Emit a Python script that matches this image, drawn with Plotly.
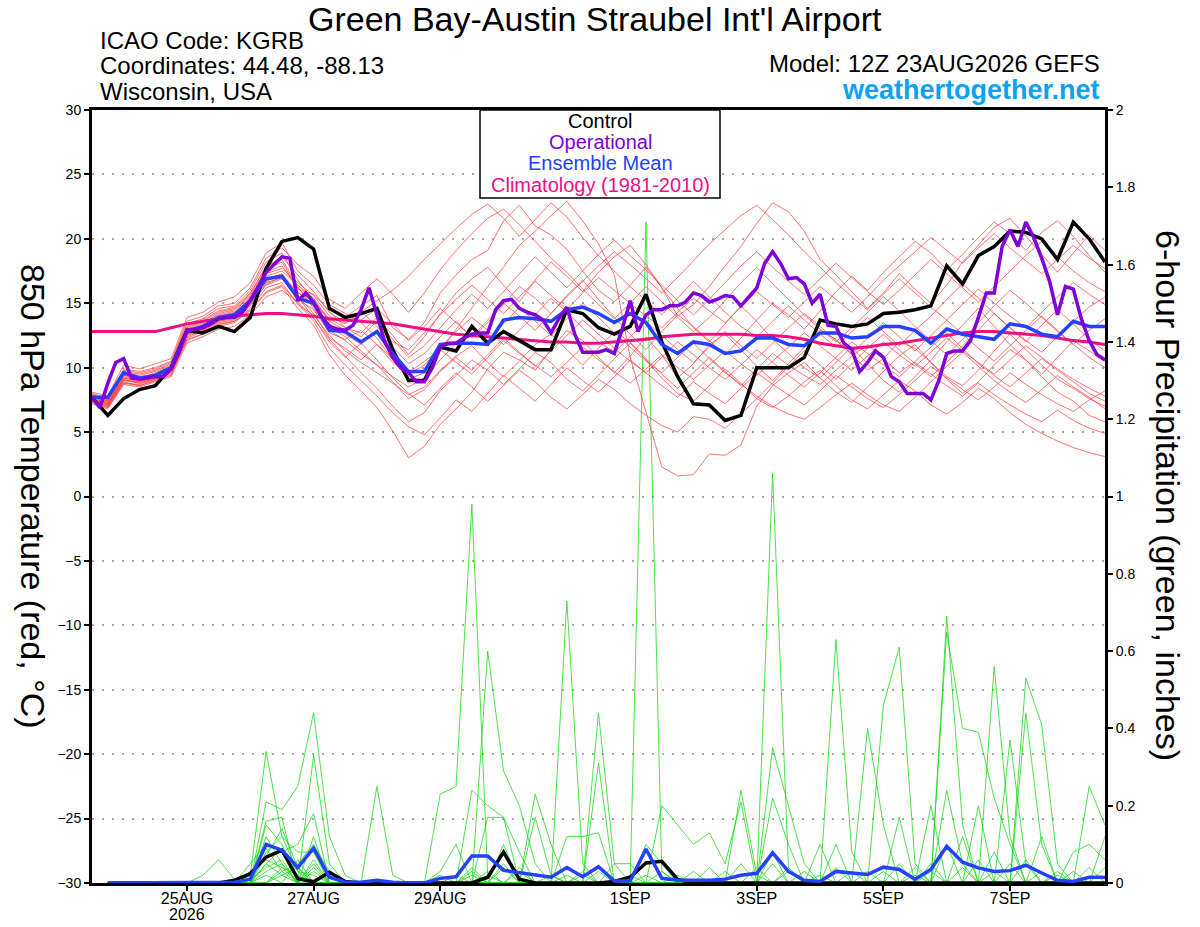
import pandas as pd
import plotly.graph_objects as go

# GEFS 12Z 23AUG2026 run, 6-hourly out to 16 days (operational is 3-hourly)
STEPS = pd.date_range("2026-08-23 12:00", periods=65, freq="6h")
OPER_STEPS = pd.date_range("2026-08-23 12:00", periods=129, freq="3h")

TICK_DATES = ["2026-08-25", "2026-08-27", "2026-08-29", "2026-09-01",
              "2026-09-03", "2026-09-05", "2026-09-07"]
TICK_TEXT = ["25AUG", "27AUG", "29AUG", "1SEP", "3SEP", "5SEP", "7SEP"]
YEAR_LABEL = "2026"

# 850 hPa temperature (C)
CONTROL_T = [7.7, 6.3, 7.6, 8.3, 8.6, 10.0, 12.9, 12.7, 13.2, 12.8, 13.9, 17.7, 19.8,
             20.1, 19.2, 14.6, 13.9, 14.2, 14.6, 11.4, 9.0, 9.0, 11.6, 11.3, 13.2, 11.9,
             12.8, 12.1, 11.4, 11.4, 14.5, 14.2, 13.1, 12.6, 13.2, 15.7, 12.0, 9.3, 7.2,
             7.1, 5.9, 6.3, 10.0, 10.0, 10.0, 10.8, 13.7, 13.4, 13.2, 13.4, 14.2, 14.3,
             14.5, 14.8, 17.9, 16.5, 18.7, 19.4, 20.6, 20.5, 20.0, 18.4, 21.3, 20.0, 18.2]

OPER_T = [7.7, 6.9, 8.8, 10.4, 10.7, 9.2, 9.1, 9.2, 9.3, 9.3, 9.9, 11.2, 12.9,
          13.0, 13.1, 13.4, 13.8, 13.9, 13.9, 14.3, 15.2, 16.3, 17.4, 18.0, 18.6, 18.5,
          15.2, 15.8, 15.1, 14.0, 13.2, 13.0, 12.9, 13.3, 14.5, 16.2, 14.0, 12.0, 10.8,
          10.0, 9.6, 8.9, 8.9, 10.0, 11.6, 11.9, 11.9, 12.3, 12.6, 12.7, 12.7, 14.5,
          15.2, 15.3, 14.6, 14.3, 14.1, 13.7, 12.7, 13.8, 14.7, 12.6, 11.2, 11.2, 11.2,
          11.4, 11.1, 13.0, 15.2, 12.8, 14.1, 14.5, 14.5, 14.8, 14.8, 15.1, 15.8, 15.6,
          15.1, 15.3, 15.6, 15.5, 14.8, 15.5, 16.2, 18.1, 19.0, 18.1, 16.9, 17.0, 16.5,
          15.0, 15.7, 13.3, 13.2, 11.9, 11.4, 9.7, 10.4, 11.3, 10.8, 9.3, 8.9, 8.0,
          8.0, 8.0, 7.5, 9.0, 11.1, 11.3, 11.3, 12.1, 13.9, 15.8, 15.8, 19.4, 20.7,
          19.4, 21.3, 20.1, 18.5, 16.7, 14.1, 16.3, 16.1, 13.8, 12.1, 11.0, 10.6]

MEAN_T = [7.7, 7.7, 9.6, 9.2, 9.4, 10.0, 12.8, 13.2, 13.9, 14.1, 15.2, 16.9, 17.1,
          15.4, 15.0, 12.9, 12.8, 12.0, 12.8, 11.1, 9.7, 9.7, 11.8, 11.9, 11.9, 11.8,
          13.7, 13.9, 13.8, 13.6, 14.5, 14.7, 14.2, 13.5, 14.2, 13.5, 11.8, 11.1, 12.0,
          11.8, 11.1, 11.3, 12.3, 12.3, 11.8, 11.7, 12.7, 12.7, 12.3, 12.4, 13.2, 13.2,
          12.9, 11.9, 13.0, 12.6, 12.4, 12.2, 13.4, 13.2, 12.6, 12.4, 13.6, 13.2, 13.2]

CLIMO_T = [12.8, 12.8, 12.8, 12.8, 12.8, 13.1, 13.4, 13.6, 13.8, 14.0, 14.1, 14.2, 14.2,
           14.1, 14.0, 13.8, 13.7, 13.6, 13.5, 13.4, 13.2, 13.0, 12.8, 12.6, 12.5, 12.4,
           12.3, 12.2, 12.1, 12.0, 12.0, 11.9, 11.9, 12.0, 12.1, 12.2, 12.4, 12.5, 12.6,
           12.6, 12.6, 12.6, 12.5, 12.5, 12.4, 12.2, 11.9, 11.7, 11.5, 11.6, 11.8, 11.9,
           12.1, 12.3, 12.5, 12.7, 12.8, 12.8, 12.7, 12.6, 12.5, 12.3, 12.1, 12.0, 11.8]

# ensemble members, 850 hPa temperature
MEM01_T = [7.9, 7.4, 9.8, 9.6, 9.9, 10.4, 13.4, 13.8, 14.6, 14.8, 16.0, 18.2, 18.9,
           16.8, 15.2, 13.6, 13.9, 14.8, 15.6, 13.1, 12.2, 13.5, 15.8, 17.2, 18.4, 19.1,
           21.4, 22.6, 21.0, 20.3, 19.2, 17.5, 16.0, 15.1, 16.4, 17.8, 16.2, 14.0, 14.9,
           16.3, 17.9, 19.4, 21.2, 22.8, 22.1, 20.6, 18.4, 17.2, 15.9, 14.6, 15.8, 17.3,
           16.1, 15.0, 16.4, 18.2, 19.5, 20.9, 21.6, 20.2, 18.8, 17.4, 18.9, 20.3, 19.1]
MEM02_T = [7.5, 7.0, 9.0, 8.8, 9.1, 9.6, 12.1, 12.6, 13.3, 13.6, 14.4, 15.8, 16.3,
           14.6, 13.3, 11.0, 9.4, 8.2, 6.9, 5.1, 3.0, 3.9, 5.6, 6.8, 8.1, 9.9,
           11.2, 10.6, 9.8, 11.4, 12.9, 12.1, 10.8, 9.6, 10.9, 12.4, 11.0, 9.2, 10.3,
           11.8, 12.6, 11.4, 10.1, 9.0, 10.3, 11.6, 12.9, 12.2, 11.0, 9.8, 10.7, 12.0,
           11.5, 10.4, 9.1, 8.0, 8.9, 10.2, 11.4, 10.6, 9.3, 8.1, 7.4, 6.3, 5.8]
MEM03_T = [8.1, 7.8, 10.2, 9.9, 10.3, 10.7, 13.9, 14.3, 15.1, 15.5, 16.6, 18.9, 19.7,
           17.5, 16.4, 14.9, 14.2, 13.5, 12.3, 10.6, 9.1, 9.6, 11.3, 13.0, 14.6, 16.3,
           17.8, 19.5, 20.6, 21.8, 22.9, 21.4, 19.6, 17.2, 10.8, 6.5, 2.3, 1.6, 1.7,
           3.3, 3.2, 4.0, 7.0, 8.6, 9.6, 10.4, 9.2, 8.1, 7.3, 8.5, 9.7, 10.9,
           11.8, 10.4, 9.3, 8.6, 9.8, 11.3, 12.6, 11.4, 10.2, 9.1, 8.4, 7.6, 7.0]
MEM04_T = [7.2, 6.8, 8.7, 8.5, 8.9, 9.3, 11.9, 12.4, 13.0, 13.2, 14.1, 15.5, 16.0,
           15.1, 13.8, 12.2, 10.9, 9.6, 8.4, 7.0, 5.8, 6.5, 8.2, 9.4, 10.6, 9.8,
           8.7, 9.9, 11.2, 10.4, 9.1, 8.2, 9.4, 10.7, 11.9, 10.6, 9.2, 8.0, 7.4,
           8.6, 9.9, 8.8, 7.6, 6.9, 7.8, 8.9, 9.8, 8.6, 7.5, 6.8, 7.9, 9.0,
           8.2, 7.1, 6.4, 7.3, 8.4, 7.6, 6.5, 5.6, 4.9, 4.3, 3.8, 3.4, 3.1]
MEM05_T = [7.8, 7.3, 9.4, 9.1, 9.5, 10.1, 12.9, 13.4, 14.2, 14.5, 15.6, 17.6, 18.2,
           16.1, 15.7, 14.4, 13.1, 12.7, 13.9, 12.5, 11.0, 12.4, 14.2, 15.8, 16.9, 17.8,
           16.4, 15.1, 16.8, 18.2, 17.1, 15.9, 17.4, 18.6, 19.5, 18.0, 16.2, 14.6, 13.1,
           12.0, 13.4, 14.8, 13.6, 12.2, 11.1, 10.0, 9.2, 10.4, 11.6, 10.3, 9.0, 8.1,
           9.3, 10.6, 12.0, 13.3, 14.6, 13.2, 11.8, 10.6, 9.5, 10.8, 12.1, 11.3, 10.5]
MEM06_T = [7.6, 7.1, 9.2, 8.9, 9.2, 9.9, 12.6, 13.1, 13.7, 14.0, 15.0, 16.6, 17.0,
           15.9, 14.8, 13.4, 12.6, 11.8, 12.9, 11.6, 10.3, 11.1, 12.4, 13.6, 12.3, 13.5,
           14.9, 16.3, 15.4, 14.2, 15.6, 16.8, 15.3, 13.9, 12.6, 11.4, 12.8, 14.1, 13.2,
           12.1, 11.0, 12.3, 13.7, 15.0, 14.1, 13.0, 14.4, 15.9, 17.1, 16.0, 17.4, 18.6,
           19.8, 18.9, 17.6, 18.8, 20.1, 21.3, 20.4, 19.1, 20.5, 21.4, 20.2, 18.7, 17.4]
MEM07_T = [7.4, 7.0, 8.9, 8.6, 9.0, 9.5, 12.3, 12.8, 13.4, 13.6, 14.6, 16.2, 16.6,
           14.9, 14.1, 12.5, 11.3, 10.4, 9.6, 8.8, 7.9, 8.5, 9.8, 10.9, 11.7, 10.4,
           9.3, 10.5, 11.8, 12.6, 11.4, 10.2, 11.5, 12.8, 12.0, 10.7, 9.5, 8.4, 9.6,
           10.8, 9.7, 8.6, 9.9, 11.1, 10.2, 9.4, 8.7, 9.8, 10.9, 11.8, 10.7, 9.6,
           10.5, 11.6, 12.7, 11.5, 10.3, 9.4, 8.5, 9.6, 10.7, 9.8, 8.9, 8.0, 7.4]
MEM08_T = [8.0, 7.6, 9.9, 9.7, 10.0, 10.5, 13.6, 14.0, 14.8, 15.0, 16.2, 18.5, 19.3,
           18.0, 17.1, 15.3, 14.6, 15.8, 16.9, 15.7, 14.3, 15.8, 17.6, 19.1, 20.4, 21.6,
           22.3, 21.1, 19.8, 18.5, 17.4, 16.1, 14.9, 13.8, 15.0, 16.3, 15.1, 13.9, 12.8,
           13.9, 15.2, 16.6, 17.8, 16.5, 15.3, 14.1, 13.0, 12.0, 13.1, 14.3, 15.5, 14.4,
           13.2, 12.1, 11.0, 12.2, 13.5, 14.8, 16.0, 15.0, 13.9, 12.8, 11.8, 12.9, 13.8]
MEM09_T = [7.3, 6.9, 8.8, 8.7, 9.1, 9.7, 12.5, 12.9, 13.6, 13.8, 14.9, 16.4, 16.9,
           15.5, 13.9, 12.0, 10.8, 11.9, 10.6, 9.2, 8.0, 7.1, 8.4, 9.6, 8.5, 7.4,
           8.6, 9.8, 8.9, 7.7, 6.8, 7.9, 9.1, 8.3, 7.2, 6.3, 5.5, 5.0, 6.2,
           6.0, 5.3, 6.4, 7.6, 8.8, 10.1, 11.3, 10.2, 9.1, 10.3, 11.5, 12.6, 11.4,
           10.3, 9.3, 10.4, 11.7, 12.9, 14.2, 13.1, 12.0, 13.3, 14.5, 13.4, 12.2, 11.3]
MEM10_T = [7.7, 7.2, 9.3, 9.0, 9.4, 10.0, 12.7, 13.2, 13.9, 14.2, 15.4, 17.3, 17.7,
           16.6, 15.6, 14.0, 13.4, 14.3, 15.2, 16.0, 17.1, 18.4, 19.6, 20.8, 21.9, 22.7,
           21.6, 20.2, 21.5, 22.8, 21.7, 20.1, 18.7, 17.5, 16.3, 15.2, 14.1, 15.4, 16.7,
           15.5, 14.3, 13.2, 12.4, 13.6, 14.8, 13.7, 12.6, 11.6, 12.8, 13.9, 12.8, 11.7,
           12.9, 14.0, 15.3, 16.5, 15.4, 14.2, 13.1, 12.1, 11.2, 12.4, 13.6, 14.7, 15.5]
MEM11_T = [7.9, 7.5, 9.6, 9.4, 9.7, 10.2, 13.1, 13.6, 14.3, 14.6, 15.7, 17.9, 18.4,
           16.3, 14.6, 12.9, 12.1, 11.1, 10.2, 9.3, 8.5, 9.2, 10.6, 11.9, 13.0, 12.1,
           13.4, 14.7, 13.6, 12.5, 13.8, 15.0, 13.9, 12.7, 11.6, 10.5, 9.6, 10.8, 11.9,
           10.7, 9.6, 8.7, 7.8, 7.0, 6.4, 6.0, 6.9, 7.9, 8.8, 7.9, 7.1, 6.6,
           7.7, 8.9, 10.1, 11.2, 10.1, 9.0, 8.1, 7.3, 8.3, 9.4, 8.5, 7.7, 6.8]
MEM12_T = [7.6, 7.2, 9.1, 8.8, 9.2, 9.8, 12.6, 13.0, 13.6, 13.9, 15.0, 16.8, 17.3,
           15.8, 15.2, 13.8, 13.1, 12.4, 13.6, 12.2, 10.8, 11.7, 13.1, 14.5, 15.7, 14.6,
           15.9, 17.3, 18.6, 17.4, 16.2, 17.5, 18.8, 19.9, 18.7, 17.6, 16.4, 15.2, 14.1,
           15.3, 16.6, 17.9, 19.0, 17.8, 16.7, 15.7, 16.9, 18.1, 17.0, 15.9, 14.9, 16.0,
           17.2, 18.4, 17.3, 16.2, 15.1, 16.3, 17.5, 18.7, 19.8, 18.6, 17.5, 16.6, 15.9]
MEM13_T = [7.5, 7.1, 9.0, 8.9, 9.3, 9.8, 12.4, 12.9, 13.5, 13.7, 14.8, 16.5, 17.0,
           15.3, 14.5, 12.7, 12.2, 12.9, 11.8, 10.4, 9.5, 10.2, 11.6, 12.8, 13.9, 12.9,
           11.8, 12.9, 14.1, 15.4, 14.3, 13.1, 12.0, 11.2, 12.4, 13.6, 12.5, 11.4, 10.4,
           11.6, 12.8, 11.7, 10.7, 11.9, 13.1, 14.2, 13.2, 12.1, 11.1, 12.3, 13.5, 12.4,
           11.3, 12.5, 13.7, 12.6, 11.5, 10.5, 11.7, 12.9, 14.0, 12.9, 11.8, 10.8, 10.0]
MEM14_T = [7.8, 7.4, 9.5, 9.2, 9.6, 10.1, 13.0, 13.5, 14.1, 14.4, 15.5, 17.4, 17.9,
           16.2, 15.0, 13.2, 12.4, 11.3, 10.2, 8.9, 7.6, 8.3, 9.7, 10.8, 9.8, 11.0,
           12.3, 11.2, 10.1, 11.3, 12.5, 13.7, 12.6, 11.5, 10.5, 9.6, 10.8, 12.0, 11.0,
           10.0, 9.1, 10.2, 11.4, 10.4, 9.4, 8.5, 9.6, 10.8, 12.0, 11.1, 10.2, 9.3,
           10.4, 9.5, 8.6, 7.8, 8.8, 7.9, 7.1, 6.4, 5.8, 6.7, 5.9, 5.3, 4.9]
MEM15_T = [7.7, 7.3, 9.4, 9.2, 9.5, 10.0, 12.8, 13.3, 14.0, 14.3, 15.3, 17.1, 17.5,
           16.4, 15.4, 13.6, 12.9, 13.7, 14.6, 13.4, 12.1, 13.2, 14.6, 13.5, 12.4, 13.7,
           15.0, 14.0, 12.9, 14.2, 15.5, 16.7, 17.9, 19.0, 18.0, 16.9, 15.8, 17.0, 18.3,
           19.6, 20.7, 21.8, 22.6, 21.5, 20.3, 19.0, 17.8, 16.6, 15.5, 14.5, 15.7, 16.9,
           15.8, 14.7, 13.7, 14.9, 16.1, 15.0, 14.0, 13.1, 14.3, 15.5, 16.6, 15.7, 14.9]
MEM16_T = [7.4, 6.9, 8.8, 8.6, 9.0, 9.4, 12.2, 12.6, 13.2, 13.5, 14.5, 15.9, 16.4,
           15.0, 13.6, 11.5, 10.2, 9.0, 7.8, 6.5, 5.4, 4.8, 6.1, 7.5, 6.6, 8.0,
           9.4, 8.4, 7.4, 8.7, 10.0, 9.0, 8.1, 9.3, 10.6, 9.6, 8.6, 7.7, 8.9,
           8.0, 7.2, 8.4, 9.6, 8.7, 7.9, 7.1, 8.2, 9.4, 8.5, 7.6, 6.9, 7.9,
           9.0, 10.1, 9.2, 8.3, 7.5, 8.5, 9.6, 8.7, 7.9, 7.2, 6.6, 7.5, 8.2]
MEM17_T = [7.9, 7.5, 9.7, 9.5, 9.8, 10.3, 13.2, 13.7, 14.4, 14.7, 15.8, 17.8, 18.6,
           17.2, 15.9, 14.3, 13.5, 14.4, 13.2, 12.0, 11.4, 12.7, 14.1, 15.3, 16.4, 15.3,
           14.2, 15.5, 16.7, 15.6, 14.5, 15.8, 17.0, 16.0, 15.0, 14.0, 13.1, 14.3, 15.4,
           14.4, 13.5, 14.7, 15.9, 14.9, 13.9, 15.1, 16.3, 15.3, 14.3, 15.5, 16.8, 17.9,
           19.0, 20.1, 19.1, 18.1, 19.3, 20.4, 19.3, 18.3, 17.3, 18.4, 19.5, 18.5, 17.7]
MEM18_T = [7.6, 7.1, 9.2, 9.0, 9.3, 9.9, 12.6, 13.0, 13.7, 14.0, 15.1, 16.7, 17.2,
           15.6, 14.2, 12.3, 11.5, 10.6, 11.8, 10.7, 9.6, 10.5, 11.4, 10.4, 9.5, 10.8,
           12.1, 11.1, 10.2, 9.3, 10.4, 11.6, 10.6, 9.7, 8.8, 9.9, 11.0, 10.0, 9.1,
           10.2, 11.3, 10.3, 9.4, 10.5, 11.6, 12.7, 11.7, 10.7, 9.8, 10.9, 12.0, 11.0,
           10.1, 11.2, 12.3, 11.3, 10.4, 9.5, 10.6, 11.7, 10.8, 9.9, 9.1, 8.4, 7.8]

# 6-hour precipitation (inches); first value is the analysis time (no accumulation)
CONTROL_P = [0, 0, 0, 0, 0, 0, 0, 0, 0, 0.007, 0.024, 0.067, 0.085,
             0.011, 0.003, 0.028, 0.004, 0, 0, 0, 0, 0, 0, 0, 0, 0.015,
             0.08, 0.01, 0, 0, 0, 0, 0, 0.004, 0.015, 0.052, 0.056, 0.009, 0,
             0, 0, 0, 0, 0, 0, 0, 0, 0, 0, 0, 0, 0,
             0, 0, 0, 0, 0, 0, 0, 0, 0, 0, 0, 0, 0]
MEAN_P = [0, 0, 0, 0, 0, 0, 0, 0, 0, 0.002, 0.01, 0.1, 0.085,
          0.04, 0.09, 0.015, 0.002, 0.002, 0.007, 0.002, 0, 0, 0.012, 0.016, 0.07, 0.07,
          0.033, 0.027, 0.022, 0.015, 0.04, 0.016, 0.042, 0.005, 0.005, 0.088, 0.012, 0.007, 0.007,
          0.007, 0.01, 0.02, 0.025, 0.078, 0.03, 0.007, 0.004, 0.03, 0.026, 0.022, 0.041, 0.035,
          0.01, 0.035, 0.095, 0.054, 0.039, 0.03, 0.032, 0.046, 0.026, 0.007, 0.004, 0.015, 0.015]

MEM01_P = [0, 0, 0, 0, 0, 0, 0, 0, 0, 0, 0.02, 0.34, 0.12,
           0.03, 0, 0, 0, 0, 0, 0, 0, 0, 0.23, 0.25, 0.98, 0.02,
           0, 0, 0, 0, 0, 0, 0, 0, 0, 0, 0, 0, 0,
           0, 0, 0.05, 0, 0.08, 0, 0, 0, 0, 0, 0, 0, 0,
           0, 0, 0.24, 0.05, 0, 0, 0, 0, 0, 0, 0, 0, 0]
MEM02_P = [0, 0, 0, 0, 0, 0, 0, 0, 0, 0, 0, 0.21, 0.19,
           0.25, 0.44, 0.12, 0.02, 0, 0, 0, 0, 0, 0, 0, 0, 0.60,
           0.29, 0.20, 0.05, 0, 0, 0, 0, 0, 0, 0, 0, 0, 0,
           0, 0, 0, 0, 0, 0, 0, 0, 0.10, 0, 0, 0, 0,
           0, 0, 0, 0, 0, 0.56, 0.12, 0, 0, 0, 0, 0, 0]
MEM03_P = [0, 0, 0, 0, 0, 0, 0, 0, 0, 0, 0, 0.16, 0.17,
           0, 0.33, 0.05, 0, 0, 0, 0, 0, 0, 0, 0, 0, 0,
           0, 0, 0, 0, 0.73, 0.05, 0, 0, 0, 0, 0, 0, 0,
           0, 0, 0, 0, 1.06, 0.04, 0, 0, 0, 0, 0, 0, 0,
           0, 0, 0, 0, 0, 0, 0, 0, 0.12, 0, 0, 0, 0]
MEM04_P = [0, 0, 0, 0, 0, 0, 0, 0, 0, 0, 0.05, 0.10, 0.08,
           0.10, 0.18, 0, 0, 0, 0.25, 0.02, 0, 0, 0, 0, 0, 0,
           0, 0, 0, 0, 0, 0, 0, 0, 0, 1.71, 0.03, 0, 0,
           0, 0, 0, 0, 0, 0, 0, 0, 0, 0, 0, 0, 0.17,
           0, 0, 0, 0, 0, 0, 0, 0.53, 0.41, 0.05, 0, 0, 0]
MEM05_P = [0, 0, 0, 0, 0, 0, 0, 0.02, 0.06, 0.01, 0, 0.15, 0.10,
           0, 0.12, 0, 0, 0, 0, 0, 0, 0, 0, 0, 0.24, 0.20,
           0.17, 0, 0, 0, 0, 0, 0.44, 0.05, 0, 0, 0, 0, 0,
           0, 0, 0, 0, 0, 0, 0, 0, 0.63, 0.08, 0, 0, 0,
           0, 0, 0, 0, 0, 0, 0, 0, 0, 0, 0, 0, 0.12]
MEM06_P = [0, 0, 0, 0, 0, 0, 0, 0, 0, 0, 0, 0.08, 0.12,
           0.08, 0.08, 0, 0, 0, 0, 0, 0, 0, 0, 0, 0, 0,
           0.10, 0, 0.23, 0.10, 0, 0, 0.31, 0, 0, 0, 0, 0, 0,
           0, 0, 0.24, 0.02, 0, 0, 0, 0, 0, 0, 0, 0, 0,
           0, 0, 0.69, 0.15, 0, 0, 0, 0, 0, 0, 0, 0, 0]
MEM07_P = [0, 0, 0, 0, 0, 0, 0, 0, 0, 0, 0, 0.12, 0.05,
           0, 0.05, 0, 0, 0, 0, 0, 0, 0, 0.03, 0.10, 0, 0.17,
           0.17, 0.08, 0, 0, 0, 0, 0, 0, 0, 0, 0.20, 0.15, 0.10,
           0.13, 0.05, 0.21, 0, 0, 0, 0, 0, 0, 0, 0, 0.46, 0.61,
           0.05, 0, 0, 0, 0, 0, 0, 0, 0, 0, 0, 0, 0]
MEM08_P = [0, 0, 0, 0, 0, 0, 0, 0, 0, 0, 0.03, 0.06, 0.04,
           0.02, 0, 0, 0, 0, 0, 0, 0, 0, 0, 0, 0.03, 0,
           0, 0, 0, 0, 0.12, 0.12, 0.13, 0, 0, 0, 0, 0, 0,
           0, 0, 0, 0, 0.35, 0.20, 0.05, 0, 0, 0, 0, 0, 0,
           0, 0, 0.65, 0.40, 0.39, 0.22, 0.10, 0, 0, 0, 0, 0, 0]
MEM09_P = [0, 0, 0, 0, 0, 0, 0, 0, 0, 0, 0, 0.05, 0.09,
           0.03, 0.02, 0, 0, 0, 0, 0, 0, 0, 0, 0, 0, 0,
           0, 0, 0.17, 0.02, 0, 0, 0, 0, 0, 0.10, 0.05, 0, 0,
           0, 0, 0, 0, 0.22, 0.10, 0, 0, 0, 0, 0.40, 0.15, 0,
           0, 0, 0, 0, 0, 0, 0, 0.44, 0.10, 0, 0, 0.25, 0.15]
MEM10_P = [0, 0, 0, 0, 0, 0, 0, 0, 0, 0, 0.01, 0.04, 0.06,
           0, 0.04, 0, 0, 0, 0, 0, 0, 0, 0, 0, 0.02, 0,
           0, 0.04, 0, 0, 0, 0, 0, 0.05, 0.05, 0, 0, 0, 0,
           0, 0, 0, 0, 0, 0, 0, 0.10, 0, 0, 0, 0, 0,
           0, 0.20, 0, 0, 0.20, 0, 0.37, 0.05, 0, 0, 0, 0, 0]
MEM11_P = [0, 0, 0, 0, 0, 0, 0, 0, 0, 0, 0, 0, 0.03,
           0.05, 0.10, 0.03, 0, 0, 0, 0, 0, 0, 0, 0, 0, 0,
           0, 0, 0, 0, 0, 0.03, 0, 0, 0, 0, 0, 0, 0.03,
           0, 0, 0, 0, 0, 0, 0.03, 0, 0, 0, 0, 0, 0,
           0.04, 0, 0, 0, 0, 0.03, 0, 0, 0, 0, 0.08, 0.10, 0.06]
MEM12_P = [0, 0, 0, 0, 0, 0, 0, 0, 0, 0, 0, 0.07, 0.14,
           0.04, 0, 0, 0, 0, 0, 0, 0, 0, 0, 0, 0, 0,
           0.05, 0, 0, 0.02, 0, 0, 0, 0, 0, 0, 0, 0.02, 0,
           0, 0, 0, 0.04, 0, 0, 0, 0, 0, 0.03, 0, 0, 0,
           0, 0.05, 0, 0.12, 0, 0, 0, 0, 0, 0.02, 0, 0, 0]
MEM13_P = [0, 0, 0, 0, 0, 0, 0, 0, 0, 0, 0, 0.03, 0.05,
           0, 0.03, 0, 0, 0, 0, 0, 0, 0, 0, 0.02, 0, 0,
           0, 0, 0, 0, 0.02, 0, 0, 0, 0, 0, 0, 0, 0,
           0.04, 0, 0, 0, 0, 0, 0, 0.02, 0, 0, 0, 0.03, 0,
           0, 0, 0, 0, 0.06, 0, 0, 0, 0.03, 0, 0, 0, 0]
MEM14_P = [0, 0, 0, 0, 0, 0, 0, 0, 0, 0, 0, 0, 0.02,
           0.04, 0, 0, 0, 0, 0, 0, 0, 0, 0, 0, 0, 0,
           0, 0.03, 0, 0, 0, 0, 0, 0, 0, 0.02, 0, 0, 0,
           0, 0, 0, 0, 0, 0.04, 0, 0, 0, 0, 0, 0, 0.05,
           0, 0, 0, 0, 0, 0.08, 0, 0, 0, 0, 0, 0, 0.04]
MEM15_P = [0, 0, 0, 0, 0, 0, 0, 0, 0, 0, 0.02, 0.09, 0.03,
           0, 0, 0, 0, 0, 0, 0, 0, 0, 0, 0, 0.04, 0,
           0, 0, 0, 0, 0, 0, 0.03, 0, 0, 0, 0, 0, 0,
           0, 0.03, 0, 0, 0, 0, 0, 0, 0, 0, 0.03, 0, 0,
           0, 0, 0.10, 0, 0, 0, 0, 0, 0, 0, 0, 0.04, 0]
MEM16_P = [0, 0, 0, 0, 0, 0, 0, 0, 0, 0, 0, 0.02, 0,
           0.06, 0, 0, 0, 0, 0, 0, 0, 0, 0, 0, 0, 0.03,
           0, 0, 0, 0, 0, 0.02, 0, 0, 0, 0, 0, 0, 0,
           0, 0, 0, 0, 0, 0, 0, 0, 0.04, 0, 0, 0, 0,
           0, 0.03, 0, 0, 0, 0, 0, 0.06, 0, 0, 0, 0, 0]
MEM17_P = [0, 0, 0, 0, 0, 0, 0, 0, 0, 0, 0, 0, 0.04,
           0, 0.06, 0, 0, 0, 0, 0, 0, 0, 0, 0, 0, 0,
           0.04, 0, 0, 0, 0, 0, 0, 0, 0, 0, 0.03, 0, 0,
           0, 0, 0, 0, 0.05, 0, 0, 0, 0, 0, 0, 0, 0,
           0, 0, 0, 0.04, 0, 0, 0, 0, 0, 0, 0.03, 0, 0]
MEM18_P = [0, 0, 0, 0, 0, 0, 0, 0, 0, 0, 0, 0.05, 0.02,
           0, 0, 0, 0, 0, 0, 0, 0, 0, 0.02, 0, 0, 0,
           0, 0, 0, 0, 0, 0, 0, 0, 0.02, 0, 0, 0, 0,
           0, 0, 0, 0, 0, 0.03, 0, 0, 0, 0, 0, 0, 0,
           0.02, 0, 0, 0, 0, 0, 0.05, 0, 0, 0.03, 0, 0, 0]

MEMBERS_T = [MEM01_T, MEM02_T, MEM03_T, MEM04_T, MEM05_T, MEM06_T, MEM07_T, MEM08_T, MEM09_T,
             MEM10_T, MEM11_T, MEM12_T, MEM13_T, MEM14_T, MEM15_T, MEM16_T, MEM17_T, MEM18_T]
MEMBERS_P = [MEM01_P, MEM02_P, MEM03_P, MEM04_P, MEM05_P, MEM06_P, MEM07_P, MEM08_P, MEM09_P,
             MEM10_P, MEM11_P, MEM12_P, MEM13_P, MEM14_P, MEM15_P, MEM16_P, MEM17_P, MEM18_P]

for s in MEMBERS_T + MEMBERS_P + [CONTROL_T, MEAN_T, CLIMO_T, CONTROL_P, MEAN_P]:
    assert len(s) == len(STEPS), len(s)
assert len(OPER_T) == len(OPER_STEPS), len(OPER_T)

FONT = "Liberation Sans, Arial, Helvetica, sans-serif"
RED = "rgba(255,60,60,0.8)"
GREEN = "rgba(20,215,20,0.85)"
PURPLE = "#7f00d8"
BLUE = "#2341ff"
PINK = "#ee0f82"

fig = go.Figure()

# precipitation on the right axis (drawn underneath); accumulations start at +6h
for p in MEMBERS_P:
    fig.add_trace(go.Scatter(x=STEPS[1:], y=p[1:], mode="lines", yaxis="y",
                             line=dict(color=GREEN, width=0.9)))
fig.add_trace(go.Scatter(x=STEPS[1:], y=CONTROL_P[1:], mode="lines", yaxis="y",
                         line=dict(color="black", width=3.5)))
fig.add_trace(go.Scatter(x=STEPS[1:], y=MEAN_P[1:], mode="lines", yaxis="y",
                         line=dict(color=BLUE, width=3.5)))

# temperature on the left axis
for t in MEMBERS_T:
    fig.add_trace(go.Scatter(x=STEPS, y=t, mode="lines", yaxis="y2",
                             line=dict(color=RED, width=0.9)))
fig.add_trace(go.Scatter(x=STEPS, y=CLIMO_T, mode="lines", yaxis="y2",
                         line=dict(color=PINK, width=3)))
fig.add_trace(go.Scatter(x=STEPS, y=CONTROL_T, mode="lines", yaxis="y2",
                         line=dict(color="black", width=3.5)))
fig.add_trace(go.Scatter(x=STEPS, y=MEAN_T, mode="lines", yaxis="y2",
                         line=dict(color=BLUE, width=3.5)))
fig.add_trace(go.Scatter(x=OPER_STEPS, y=OPER_T, mode="lines", yaxis="y2",
                         line=dict(color=PURPLE, width=3.5)))

W, H = 1200, 927
L, R, T, B = 92, 1105, 110, 883


def xp(px):
    return (px - L) / (R - L)


def yp(py):
    return (B - py) / (B - T)


def note(text, x, y, size, xanchor="center", color="black", **kw):
    return dict(text=text, x=xp(x), y=yp(y), xref="paper", yref="paper",
                xanchor=xanchor, yanchor="middle", showarrow=False,
                font=dict(family=FONT, size=size, color=color), **kw)


axis_common = dict(ticks="outside", ticklen=5, tickwidth=1.5, tickcolor="black",
                   showline=True, linewidth=3, linecolor="black", automargin=False)

fig.update_layout(
    width=W, height=H,
    margin=dict(l=L, r=W - R, t=T, b=H - B, autoexpand=False),
    paper_bgcolor="white", plot_bgcolor="white",
    showlegend=False,
    font=dict(family=FONT, size=14, color="black"),
    xaxis=dict(range=["2026-08-23 12:00", "2026-09-08 12:00"],
               tickvals=TICK_DATES, ticktext=TICK_TEXT, ticklabelstandoff=-6,
               showgrid=False, mirror=True, tickfont=dict(size=16), **axis_common),
    yaxis=dict(range=[0, 2], dtick=0.2, side="right",
               showgrid=False, zeroline=False, tickfont=dict(size=14), **axis_common),
    yaxis2=dict(range=[-30, 30], dtick=5, side="left", overlaying="y",
                showgrid=True, gridcolor="#a8a8a8", griddash="2px,8px", gridwidth=2,
                zeroline=False, tickfont=dict(size=14), **axis_common),
    shapes=[dict(type="rect", xref="paper", yref="paper", layer="above",
                 x0=xp(480), x1=xp(720), y0=yp(198), y1=yp(110),
                 line=dict(color="black", width=1.5), fillcolor="white")],
    annotations=[
        note("Green Bay-Austin Straubel Int'l Airport", 595, 19, 34),
        note("ICAO Code: KGRB", 98, 41, 24, xanchor="left"),
        note("Coordinates: 44.48, -88.13", 98, 66, 24, xanchor="left"),
        note("Wisconsin, USA", 98, 92, 24, xanchor="left"),
        note("Model: 12Z 23AUG2026 GEFS", 1102, 63, 24, xanchor="right"),
        note("<b>weathertogether.net</b>", 1102, 90, 27, xanchor="right",
             color="#0aa2f2"),
        note("850 hPa Temperature (red, °C)", 33, 496, 34, textangle=90),
        note("6-hour Precipitation (green, inches)", 1168, 495, 34, textangle=90),
        note("Control", 600, 121, 20),
        note("Operational", 600, 142, 20, color=PURPLE),
        note("Ensemble Mean", 600, 163, 20, color=BLUE),
        note("Climatology (1981-2010)", 600, 185, 20, color=PINK),
        dict(text=YEAR_LABEL, x=TICK_DATES[0], xref="x", y=yp(914), yref="paper",
             xanchor="center", yanchor="middle", showarrow=False,
             font=dict(family=FONT, size=16, color="black")),
    ],
)

# drop the page's default body margin so the figure fills the window exactly
fig.write_html("out.html", config={"displayModeBar": False},
               post_script="document.body.style.margin='0';document.body.style.overflow='hidden';")
